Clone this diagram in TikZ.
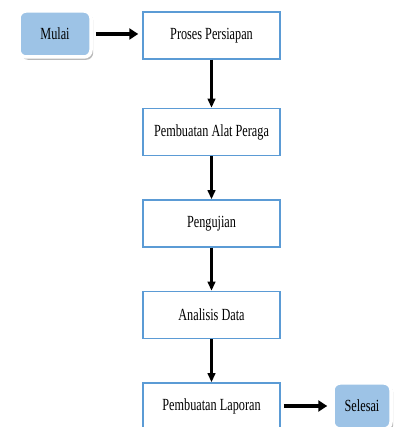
\documentclass[tikz,border=0pt]{standalone}
\usepackage{fontspec}
\setmainfont{Liberation Serif}
\usetikzlibrary{positioning,arrows.meta,shadows}

\definecolor{boxblue}{HTML}{5B9BD5}
\definecolor{endblue}{HTML}{9DC3E6}
\newcommand{\narrow}[1]{\scalebox{0.72}[1]{#1}}

\begin{document}
\begin{tikzpicture}[x=1pt,y=1pt,node distance=43pt,
                    font=\fontsize{17}{20}\selectfont,
                    process/.style={draw=boxblue,line width=1.5pt,minimum width=137pt,
                                    minimum height=47pt,inner sep=0pt},
                    terminal/.style={fill=endblue,draw=white,line width=3.5pt,rounded corners=7pt,
                                     minimum height=46pt,inner sep=0pt,
                                     drop shadow={shadow xshift=2.2pt,shadow yshift=-2.8pt,
                                                  fill=black!55,opacity=0.5}},
                    flow/.style={-{Triangle[length=9pt,width=7.5pt]},line width=2.2pt},
                    bigflow/.style={-{Triangle[length=9pt,width=11pt]},line width=3.8pt}]

  \useasboundingbox (0,0) rectangle (395,427);

  \node[terminal,minimum width=72pt] (mulai) at (55,393) {\narrow{Mulai}};
  \node[process] (persiapan) at (211.5,391.5) {\narrow{Proses Persiapan}};
  \node[process] (alat) [below=48pt of persiapan] {\narrow{Pembuatan Alat Peraga}};
  \node[process] (uji) [below=of alat] {\narrow{Pengujian}};
  \node[process] (analisis) [below=of uji] {\narrow{Analisis Data}};
  \node[process] (laporan) [below=of analisis] {\narrow{Pembuatan Laporan}};
  \node[terminal,minimum width=58pt] (selesai) at (362,21) {\narrow{Selesai}};

  \draw[bigflow,shorten <=3pt,shorten >=4pt] (mulai.east) -- (mulai.east -| persiapan.west);
  \draw[flow] (persiapan) -- (alat);
  \draw[flow] (alat) -- (uji);
  \draw[flow] (uji) -- (analisis);
  \draw[flow] (analisis) -- (laporan);
  \draw[bigflow,shorten <=3pt,shorten >=4pt] (selesai.west -| laporan.east) -- (selesai.west);
\end{tikzpicture}
\end{document}
